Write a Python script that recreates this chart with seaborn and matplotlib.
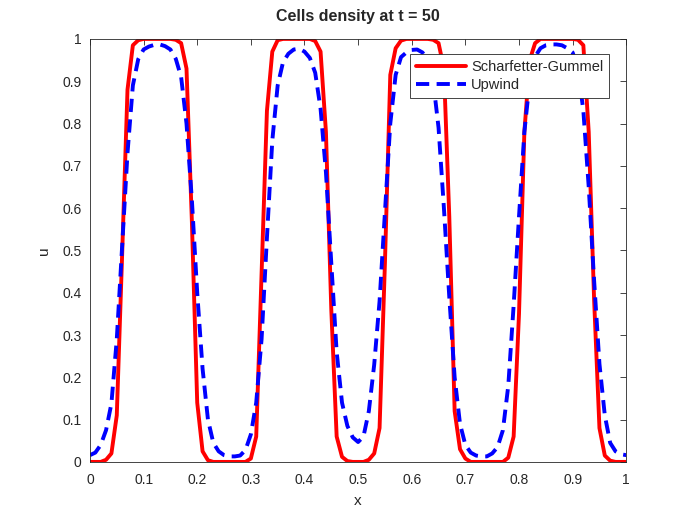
import numpy as np
import pandas as pd
import matplotlib
matplotlib.use("Agg")
import matplotlib.pyplot as plt
import seaborn as sns

# -----------------------------
# Data (grid step 0.01)
# -----------------------------
x = np.round(np.arange(101) * 0.01, 2)

u_sg = [
    0.0, 0.0, 0.0, 0.005, 0.02, 0.11, 0.49, 0.88, 0.985, 0.997,
    1.0, 1.0, 1.0, 1.0, 1.0, 1.0, 0.998, 0.99, 0.93, 0.57,
    0.14, 0.025, 0.004, 0.0, 0.0, 0.0, 0.0, 0.0, 0.0, 0.0,
    0.008, 0.06, 0.445, 0.83, 0.97, 0.997, 1.0, 1.0, 1.0, 1.0,
    1.0, 1.0, 0.995, 0.97, 0.78, 0.36, 0.06, 0.012, 0.002, 0.0,
    0.0, 0.0, 0.005, 0.02, 0.08, 0.47, 0.915, 0.978, 0.996, 1.0,
    1.0, 1.0, 1.0, 1.0, 0.998, 0.99, 0.93, 0.58, 0.12, 0.03,
    0.008, 0.0, 0.0, 0.0, 0.0, 0.0, 0.0, 0.0, 0.01, 0.06,
    0.35, 0.78, 0.95, 0.99, 1.0, 1.0, 1.0, 1.0, 1.0, 1.0,
    1.0, 0.998, 0.985, 0.78, 0.385, 0.08, 0.015, 0.003, 0.0, 0.0,
    0.0,
]

u_up = [
    0.016, 0.022, 0.04, 0.075, 0.138, 0.29, 0.51, 0.73, 0.89, 0.952,
    0.975, 0.982, 0.986, 0.987, 0.983, 0.975, 0.953, 0.91, 0.80, 0.62,
    0.40, 0.22, 0.10, 0.045, 0.025, 0.016, 0.013, 0.013, 0.015, 0.028,
    0.065, 0.14, 0.29, 0.53, 0.76, 0.89, 0.945, 0.965, 0.975, 0.977,
    0.97, 0.955, 0.92, 0.835, 0.685, 0.47, 0.26, 0.14, 0.085, 0.058,
    0.047, 0.06, 0.12, 0.23, 0.38, 0.59, 0.80, 0.915, 0.957, 0.968,
    0.974, 0.975, 0.968, 0.95, 0.90, 0.79, 0.60, 0.39, 0.20, 0.09,
    0.04, 0.022, 0.015, 0.013, 0.013, 0.02, 0.035, 0.075, 0.18, 0.37,
    0.58, 0.78, 0.90, 0.958, 0.978, 0.985, 0.987, 0.987, 0.985, 0.978,
    0.968, 0.93, 0.83, 0.65, 0.43, 0.232, 0.11, 0.045, 0.025, 0.018,
    0.016,
]

df = pd.DataFrame({"x": x, "Scharfetter-Gummel": u_sg, "Upwind": u_up})

# -----------------------------
# Style (MATLAB-like look)
# -----------------------------
sns.set_style("white")
plt.rcParams["font.family"] = ["Liberation Sans", "DejaVu Sans"]

fig = plt.figure(figsize=(6.92, 5.19), dpi=100)
ax = fig.add_axes([0.13, 0.11, 0.775, 0.815])

sns.lineplot(data=df, x="x", y="Scharfetter-Gummel", ax=ax, color="red",
             linewidth=2.8, label="Scharfetter-Gummel")
sns.lineplot(data=df, x="x", y="Upwind", ax=ax, color="blue",
             linewidth=2.8, linestyle="--", label="Upwind")
ax.lines[1].set_dashes((3.4, 1.9))

ax.set_xlim(0, 1)
ax.set_ylim(0, 1)
ticks = np.round(np.arange(11) * 0.1, 1)
tick_labels = ["0", "0.1", "0.2", "0.3", "0.4", "0.5", "0.6", "0.7", "0.8", "0.9", "1"]
ax.set_xticks(ticks)
ax.set_xticklabels(tick_labels)
ax.set_yticks(ticks)
ax.set_yticklabels(tick_labels)
ax.tick_params(direction="in", length=4, width=0.6, colors="#262626",
               labelsize=10, top=True, right=True)
ax.tick_params(axis="x", pad=8)
ax.tick_params(axis="y", pad=6)
for s in ax.spines.values():
    s.set_color("#262626")
    s.set_linewidth(0.6)

ax.set_title("Cells density at t = 50", fontsize=11.5, fontweight="bold", pad=13)
ax.set_xlabel("x", fontsize=11, color="#262626", labelpad=5)
ax.set_ylabel("u", fontsize=11, color="#262626", labelpad=8)

leg = ax.legend(loc="upper right", bbox_to_anchor=(0.968, 0.964), fontsize=10.5,
                frameon=True, fancybox=False, framealpha=1, edgecolor="#262626",
                handlelength=3.4, borderpad=0.4, labelspacing=0.3, handletextpad=0.35,
                borderaxespad=0)
leg.get_frame().set_linewidth(0.6)

fig.savefig("out.png", dpi=100)
